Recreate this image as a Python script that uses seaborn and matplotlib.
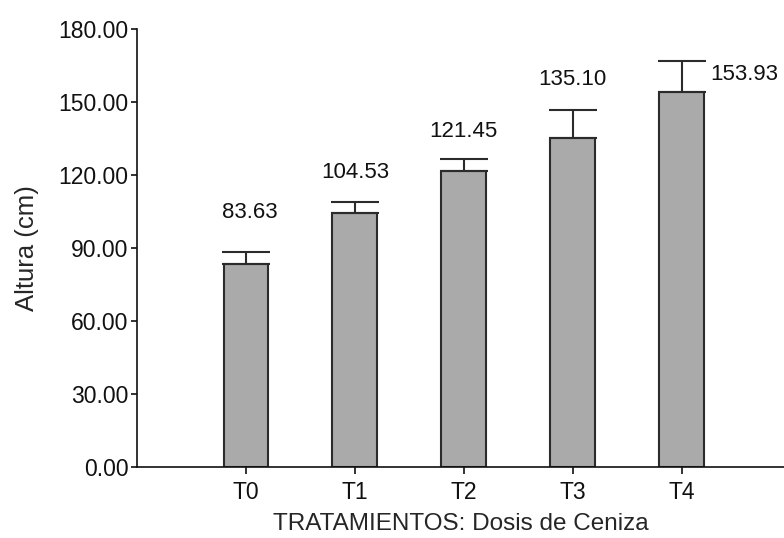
import pandas as pd
import matplotlib
matplotlib.use('Agg')
import matplotlib.pyplot as plt
import seaborn as sns

tratamientos = ['T0', 'T1', 'T2', 'T3', 'T4']
altura = [83.63, 104.53, 121.45, 135.10, 153.93]
error = [4.9, 4.4, 5.2, 11.4, 12.8]

sns.set_style('ticks')
plt.rcParams['font.family'] = ['Liberation Sans', 'DejaVu Sans']

data = pd.DataFrame({'trat': tratamientos, 'altura': altura, 'err': error})

fig = plt.figure(figsize=(7.84, 5.38), dpi=100)
ax = fig.add_axes([0.1747, 0.1314, 0.8253, 0.8153])

sns.barplot(x='trat', y='altura', data=data, color='#aaaaaa', saturation=1,
            edgecolor='#2b2b2b', linewidth=1.5, width=0.41, errorbar=None, ax=ax)
ax.errorbar(range(len(tratamientos)), data['altura'],
            yerr=[[0] * len(error), data['err']], fmt='none',
            ecolor='#2b2b2b', elinewidth=1.5, capsize=17, capthick=1.5, zorder=1)

# etiquetas de valores (T4 va al costado)
offsets = [(3, 28), (0, 21), (0, 19.5), (0, 22), (45, -10)]
for i, (m, e) in enumerate(zip(altura, error)):
    ax.annotate('{:.2f}'.format(m), (i, m + e), xytext=offsets[i],
                textcoords='offset points', ha='center', va='center',
                fontsize=16, color='#111111')

ax.set_ylim(0, 180)
ax.set_xlim(-1, 4.94)
ax.set_yticks(range(0, 181, 30))
ax.set_yticklabels(['{:.2f}'.format(v) for v in range(0, 181, 30)])
ax.set_xlabel('TRATAMIENTOS: Dosis de Ceniza', fontsize=17.5, labelpad=6)
ax.set_ylabel('Altura (cm)', fontsize=18.5, labelpad=14)
ax.tick_params(axis='both', labelsize=16.5, colors='#111111', width=1.2)
ax.tick_params(axis='y', length=4, pad=2)
ax.tick_params(axis='x', length=5, pad=5)
for s in ['left', 'bottom']:
    ax.spines[s].set_linewidth(1.2)
    ax.spines[s].set_color('#111111')
sns.despine(ax=ax)

fig.savefig('out.png', dpi=100)
